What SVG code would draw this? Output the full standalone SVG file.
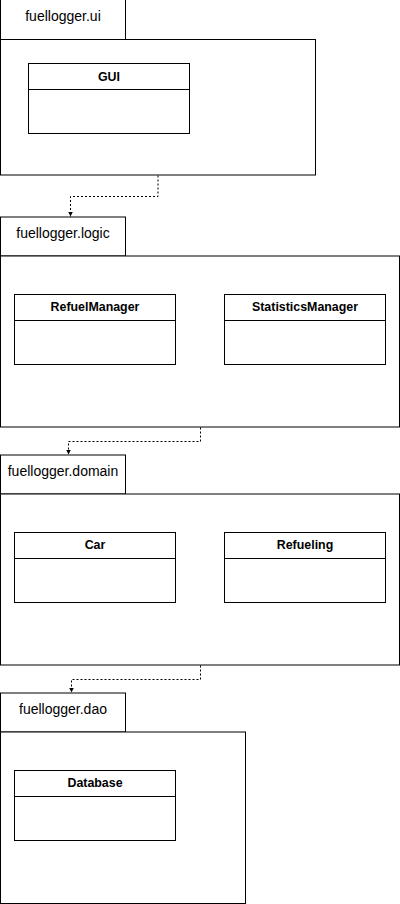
<svg xmlns="http://www.w3.org/2000/svg" width="400" height="904" viewBox="0 0 400 904">
<style>
.box{fill:#fff;stroke:#000;stroke-width:1}
.tab{fill:#fff;stroke:#000;stroke-width:1}
.pkg{font-family:"Liberation Sans",Arial,sans-serif;font-size:14px;fill:#000}
.cls{font-family:"Liberation Sans",Arial,sans-serif;font-size:12.4px;font-weight:bold;fill:#000}
.dep{fill:none;stroke:#000;stroke-width:1;stroke-dasharray:2 2}
</style>
<defs>
<marker id="arr" markerUnits="userSpaceOnUse" markerWidth="8" markerHeight="8" refX="5" refY="3" orient="auto">
<path d="M0,0.5 L5,3 L0,5.5 Z" fill="#000"/>
</marker>
</defs>
<rect width="400" height="904" fill="#fff"/>
<g id="pkg-ui">
<rect class="tab" x="0.5" y="-0.5" width="125" height="40"/>
<rect class="box" x="0.5" y="39.5" width="315" height="135.5"/>
<text class="pkg" x="63" y="21" text-anchor="middle">fuellogger.ui</text>
</g>
<g id="cls-gui">
<rect class="box" x="28.5" y="63.5" width="161" height="70"/>
<line x1="28.5" y1="89.5" x2="189.5" y2="89.5" stroke="#000"/>
<text class="cls" x="109" y="80.5" text-anchor="middle">GUI</text>
</g>
<g id="pkg-logic">
<rect class="tab" x="0.5" y="217" width="125" height="39"/>
<rect class="box" x="0.5" y="256" width="399" height="171"/>
<text class="pkg" x="63" y="238" text-anchor="middle">fuellogger.logic</text>
</g>
<g id="cls-refuelmanager">
<rect class="box" x="14.5" y="294.5" width="161" height="70"/>
<line x1="14.5" y1="320.5" x2="175.5" y2="320.5" stroke="#000"/>
<text class="cls" x="95" y="311" text-anchor="middle">RefuelManager</text>
</g>
<g id="cls-statisticsmanager">
<rect class="box" x="224.5" y="294.5" width="161" height="70"/>
<line x1="224.5" y1="320.5" x2="385.5" y2="320.5" stroke="#000"/>
<text class="cls" x="305" y="311" text-anchor="middle">StatisticsManager</text>
</g>
<g id="pkg-domain">
<rect class="tab" x="0.5" y="455" width="125" height="39"/>
<rect class="box" x="0.5" y="494" width="399" height="171"/>
<text class="pkg" x="63" y="476" text-anchor="middle">fuellogger.domain</text>
</g>
<g id="cls-car">
<rect class="box" x="14.5" y="532.5" width="161" height="70"/>
<line x1="14.5" y1="558.5" x2="175.5" y2="558.5" stroke="#000"/>
<text class="cls" x="95" y="549" text-anchor="middle">Car</text>
</g>
<g id="cls-refueling">
<rect class="box" x="224.5" y="532.5" width="161" height="70"/>
<line x1="224.5" y1="558.5" x2="385.5" y2="558.5" stroke="#000"/>
<text class="cls" x="305" y="549" text-anchor="middle">Refueling</text>
</g>
<g id="pkg-dao">
<rect class="tab" x="0.5" y="693" width="125" height="39"/>
<rect class="box" x="0.5" y="732" width="245" height="171.5"/>
<text class="pkg" x="63" y="714" text-anchor="middle">fuellogger.dao</text>
</g>
<g id="cls-database">
<rect class="box" x="14.5" y="770.5" width="161" height="70"/>
<line x1="14.5" y1="796.5" x2="175.5" y2="796.5" stroke="#000"/>
<text class="cls" x="95" y="787" text-anchor="middle">Database</text>
</g>
<g id="connectors">
<path class="dep" d="M158,175.5 V196.5 H70.5 V216.5" marker-end="url(#arr)"/>
<path class="dep" d="M200.5,427.5 V441.5 H68.5 V454.5" marker-end="url(#arr)"/>
<path class="dep" d="M200.5,665.5 V679.5 H71.5 V692.5" marker-end="url(#arr)"/>
</g>
</svg>
